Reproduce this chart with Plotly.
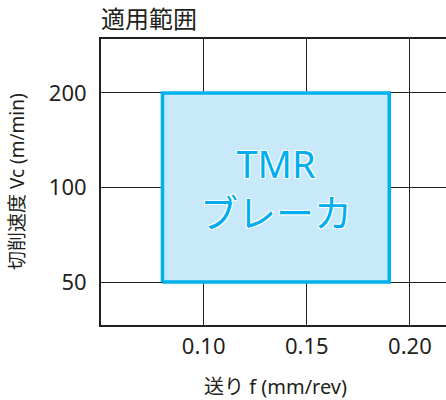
"""
    applicable range chart for the TMR breaker
"""
##########==========##########==========##########==========##########==========
## header

import plotly.graph_objects as go

## data
feed_range = [0.08, 0.19]          # f (mm/rev)
speed_range = [50, 200]            # Vc (m/min)
x_ticks = [0.10, 0.15, 0.20]
x_tick_text = ['0.10', '0.15', '0.20']
y_ticks = [50, 100, 200]
y_tick_text = ['50', '100', '200']
zone_lines = ['TMR', 'ブレーカ']

## parameters
params = dict(
    width = 446,
    height = 400,
    font = 'Noto Sans, Noto Sans CJK JP, sans-serif',
    ink = '#231f20',
    edge = '#00b2ec',
    fill = '#c8e9f9',
    text = '#00aeef',
    margin = dict(l = 101, r = 0, t = 39, b = 75)
)
plot_w = params['width'] - params['margin']['l'] - params['margin']['r']
plot_h = params['height'] - params['margin']['t'] - params['margin']['b']
halo = '1px 1px 0 white, -1px -1px 0 white, 1px -1px 0 white, -1px 1px 0 white'

##########==========##########==========##########==========##########==========
## draw

fig = go.Figure()

x0, x1 = feed_range
y0, y1 = speed_range
fig.add_trace(go.Scatter(
    x = [x0, x1, x1, x0, x0],
    y = [y0, y0, y1, y1, y0],
    mode = 'lines',
    fill = 'toself',
    fillcolor = params['fill'],
    line = dict(color = params['edge'], width = 3.5),
    hoverinfo = 'skip',
    showlegend = False
))

## zone label, centred on pixel row 187
fig.add_annotation(
    x = sum(feed_range) / 2, xref = 'x',
    y = (params['height'] - params['margin']['b'] - 187) / plot_h, yref = 'paper',
    text = '<br>'.join(zone_lines), showarrow = False, yanchor = 'middle',
    font = dict(family = params['font'], size = 38, color = params['text'], shadow = halo),
)

## axis titles
fig.add_annotation(
    x = (275 - params['margin']['l']) / plot_w, xref = 'paper',
    y = -(387 - params['height'] + params['margin']['b']) / plot_h, yref = 'paper',
    text = '送り f (mm/rev)', showarrow = False, yanchor = 'middle',
    font = dict(size = 20, color = params['ink'])
)
fig.add_annotation(
    x = -(params['margin']['l'] - 17) / plot_w, xref = 'paper',
    y = 0.5, yref = 'paper', textangle = -90,
    text = '切削速度 Vc (m/min)', showarrow = False, xanchor = 'center',
    font = dict(size = 19, color = params['ink'])
)

fig.update_layout(
    width = params['width'], height = params['height'],
    margin = params['margin'],
    plot_bgcolor = 'white', paper_bgcolor = 'white',
    font = dict(family = params['font'], color = params['ink']),
    showlegend = False,
    title = dict(text = '適用範囲', x = 101 / params['width'], xanchor = 'left',
                 y = 1 - 20 / params['height'], yanchor = 'middle',
                 font = dict(size = 24, color = params['ink'])),
    xaxis = dict(
        range = [0.0502, 0.2175], automargin = False,
        tickvals = x_ticks, ticktext = x_tick_text,
        tickfont = dict(size = 22),
        showgrid = True, gridcolor = params['ink'], gridwidth = 1,
        showline = True, linecolor = params['ink'], linewidth = 2, mirror = True,
        ticks = '', ticklabelstandoff = 1,
        zeroline = False
    ),
    yaxis = dict(
        type = 'log', automargin = False,
        range = [1.562, 2.473],
        tickvals = y_ticks, ticktext = y_tick_text,
        tickfont = dict(size = 22),
        showgrid = True, gridcolor = params['ink'], gridwidth = 1,
        showline = True, linecolor = params['ink'], linewidth = 2,
        ticks = '', ticklabelstandoff = 8,
        zeroline = False
    )
)

## page body has a default margin, drop it so the figure sits at the corner
fig.write_html('out.html', config = dict(displayModeBar = False),
               post_script = "document.body.style.margin = '0';")
